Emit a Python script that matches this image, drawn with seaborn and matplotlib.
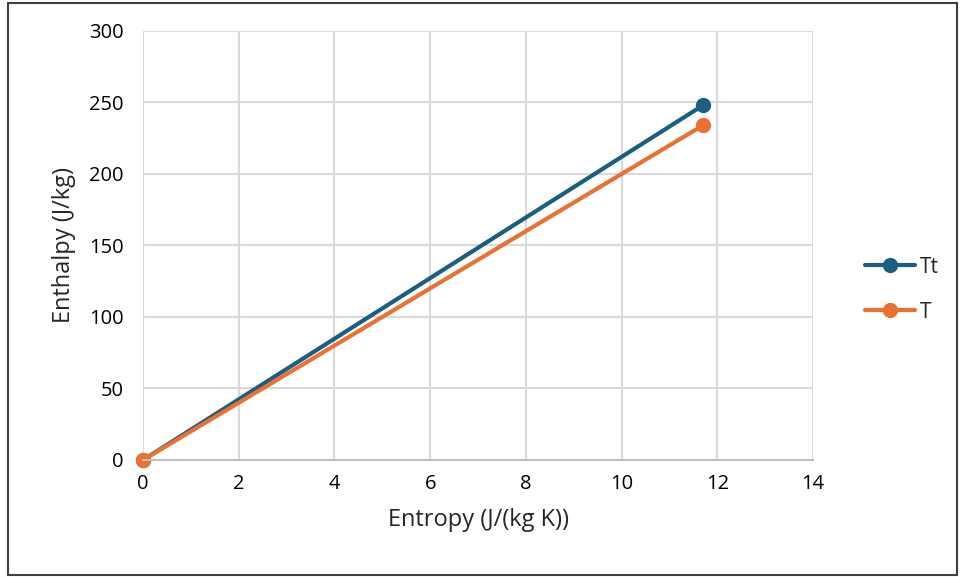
import matplotlib
matplotlib.use("Agg")
import matplotlib.pyplot as plt
import seaborn as sns
import pandas as pd
from matplotlib.patches import Rectangle

entropy = [0.0, 11.7]
tt_enthalpy = [0.0, 248.0]
t_enthalpy = [0.0, 234.0]
series_names = ["Tt", "T"]
x_ticks = [0, 2, 4, 6, 8, 10, 12, 14]
y_ticks = [0, 50, 100, 150, 200, 250, 300]

df = pd.DataFrame({
    "Entropy": entropy * 2,
    "Enthalpy": tt_enthalpy + t_enthalpy,
    "Series": [series_names[0]] * len(entropy) + [series_names[1]] * len(entropy),
})

sns.set_style("white")
plt.rcParams["font.family"] = ["Open Sans", "DejaVu Sans"]

fig = plt.figure(figsize=(9.61, 5.77), dpi=100)
ax = fig.add_axes([0.1488, 0.2028, 0.6972, 0.7435])

palette = {"Tt": "#1A5E82", "T": "#E97132"}
sns.lineplot(data=df, x="Entropy", y="Enthalpy", hue="Series", palette=palette,
             marker="o", markersize=11, markeredgewidth=0, linewidth=3,
             ax=ax, legend=True)

ax.set_xlim(0, 14)
ax.set_ylim(0, 300)
ax.set_xticks(x_ticks)
ax.set_yticks(y_ticks)
ax.grid(True, color="#D9D9D9", linewidth=1.5)
ax.set_axisbelow(True)
for s in ["top", "right", "left"]:
    ax.spines[s].set_visible(False)
ax.spines["bottom"].set_color("#BFBFBF")
ax.spines["bottom"].set_linewidth(1.5)
ax.tick_params(axis="both", length=0, labelsize=14.5, colors="black")
ax.tick_params(axis="x", pad=10)
ax.tick_params(axis="y", pad=14)
ax.set_xlabel("Entropy (J/(kg K))", fontsize=17, labelpad=10)
ax.set_ylabel("Enthalpy (J/kg)", fontsize=17, labelpad=9)
for sp in ax.lines:
    sp.set_clip_on(False)

leg = ax.legend(loc="center left", bbox_to_anchor=(1.05, 0.397), frameon=False,
                fontsize=15, handlelength=2.4, labelspacing=1.15, handletextpad=0.2)

fig.add_artist(Rectangle((8 / 961, 2 / 577), 949 / 961, 572 / 577,
                         transform=fig.transFigure, fill=False,
                         edgecolor="#404040", linewidth=1.5))

fig.savefig("out.png", dpi=100)
